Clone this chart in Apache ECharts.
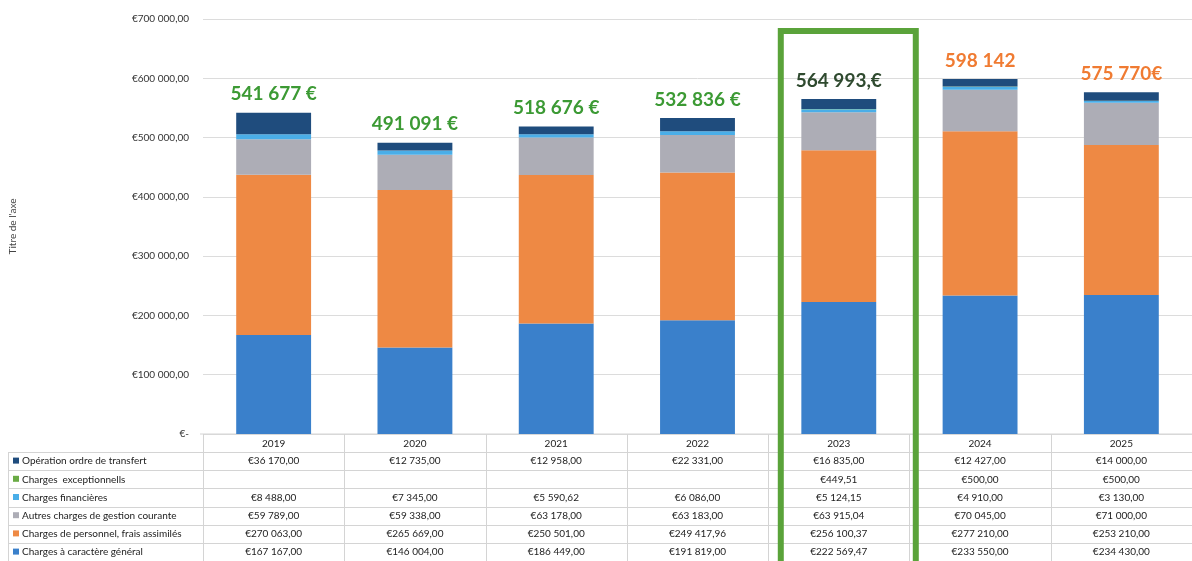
<!DOCTYPE html>
<html>
<head>
<meta charset="utf-8">
<script src="https://cdn.jsdelivr.net/npm/echarts@6/dist/echarts.min.js"></script>
<style>
  html, body { margin: 0; padding: 0; background: #fff; }
  #chart { width: 1192px; height: 561px; }
</style>
</head>
<body>
<div id="chart"></div>
<script>
var annees = ['2019', '2020', '2021', '2022', '2023', '2024', '2025'];

var chargesGeneral    = [167167, 146004, 186449, 191819, 222569.47, 233550, 234430];
var chargesPersonnel  = [270063, 265669, 250501, 249417.96, 256100.37, 277210, 253210];
var autresCharges     = [59789, 59338, 63178, 63183, 63915.04, 70045, 71000];
var chargesFinancieres = [8488, 7345, 5590.62, 6086, 5124.15, 4910, 3130];
var chargesExcept     = [null, null, null, null, 449.51, 500, 500];
var operationTransfert = [36170, 12735, 12958, 22331, 16835, 12427, 14000];

// totaux écrits au-dessus des barres
var totaux = ['541 677 €', '491 091 €', '518 676 €', '532 836 €', '564 993,€', '598 142', '575 770€'];
var couleursTotaux = ['#3c9a34', '#3c9a34', '#3c9a34', '#3c9a34', '#2f4a2f', '#f07b32', '#f07b32'];

var yTicks = [0, 100000, 200000, 300000, 400000, 500000, 600000, 700000];

// séries dans l'ordre du tableau (haut -> bas)
var lignes = [
  { nom: 'Opération ordre de transfert', data: operationTransfert, couleur: '#1f4c7d' },
  { nom: 'Charges  exceptionnells', data: chargesExcept, couleur: '#6aab45' },
  { nom: 'Charges financières', data: chargesFinancieres, couleur: '#4aaee8' },
  { nom: 'Autres charges de gestion courante', data: autresCharges, couleur: '#adadb6' },
  { nom: 'Charges de personnel, frais assimilés', data: chargesPersonnel, couleur: '#ee8944' },
  { nom: 'Charges à caractère général', data: chargesGeneral, couleur: '#3a80cb' }
];

function euro(v) {
  if (v === null || v === undefined) return '';
  var s = v.toFixed(2).split('.');
  var ent = s[0].replace(/\B(?=(\d{3})+(?!\d))/g, ' ');
  return '€' + ent + ',' + s[1];
}

function axeEuro(v) {
  if (v === 0) return '€-';
  return euro(v);
}

var chart = echarts.init(document.getElementById('chart'));

var series = [];
for (var i = lignes.length - 1; i >= 0; i--) {
  var l = lignes[i];
  var s = {
    name: l.nom,
    type: 'bar',
    stack: 'total',
    barWidth: '53%',
    itemStyle: { color: l.couleur },
    data: l.data
  };
  if (i === 0) {
    s.data = l.data.map(function (v, k) {
      return {
        value: v,
        label: {
          show: true,
          position: 'top',
          distance: 9,
          formatter: totaux[k],
          color: couleursTotaux[k],
          fontFamily: 'Lato',
          fontWeight: 'bold',
          fontSize: 19
        }
      };
    });
  }
  series.push(s);
}

var option = {
  animation: false,
  textStyle: { fontFamily: 'Lato' },
  grid: { left: 200, right: 0, top: 19, bottom: 127 },
  xAxis: {
    type: 'category',
    data: annees,
    axisLine: { show: false },
    axisTick: { show: false },
    axisLabel: { margin: 5, fontSize: 10, color: '#222', fontFamily: 'Lato' }
  },
  yAxis: {
    type: 'value',
    min: 0,
    max: 700000,
    interval: 100000,
    name: "Titre de l'axe",
    nameLocation: 'middle',
    nameGap: 185,
    nameRotate: 90,
    nameTextStyle: { fontSize: 10, color: '#444', fontFamily: 'Lato' },
    axisLabel: { formatter: axeEuro, fontSize: 10, color: '#333', margin: 14, fontFamily: 'Lato' },
    splitLine: { lineStyle: { color: '#dcdcdc', width: 1 } }
  },
  series: series
};

chart.setOption(option);

// tableau de données sous le graphique
var elems = [];
var yHaut = 434, yEntete = 452, hLigne = 18.2;
var largeurCat = chart.convertToPixel({ xAxisIndex: 0 }, 1) - chart.convertToPixel({ xAxisIndex: 0 }, 0);
var trait = { stroke: '#d4d4d4', lineWidth: 1 };

// lignes horizontales
elems.push({ type: 'line', shape: { x1: 200, y1: yHaut, x2: 1192, y2: yHaut }, style: trait });
for (var r = 0; r <= lignes.length; r++) {
  var yy = Math.round(yEntete + r * hLigne) + 0.5;
  elems.push({ type: 'line', shape: { x1: 8, y1: yy, x2: 1192, y2: yy }, style: trait });
}
// lignes verticales
elems.push({ type: 'line', shape: { x1: 8.5, y1: yEntete, x2: 8.5, y2: 561 }, style: trait });
for (var c = 0; c <= annees.length; c++) {
  var xx = Math.round(chart.convertToPixel({ xAxisIndex: 0 }, 0) - largeurCat / 2 + c * largeurCat) + 0.5;
  elems.push({ type: 'line', shape: { x1: xx, y1: yHaut, x2: xx, y2: 561 }, style: trait });
}

lignes.forEach(function (l, r) {
  var yc = yEntete + r * hLigne + hLigne / 2;
  elems.push({ type: 'rect', shape: { x: 13, y: yc - 3.5, width: 6, height: 6 }, style: { fill: l.couleur } });
  elems.push({
    type: 'text', x: 22, y: yc,
    style: { text: l.nom, fontSize: 10, fill: '#222', fontFamily: 'Lato', verticalAlign: 'middle' }
  });
  l.data.forEach(function (v, k) {
    if (v === null) return;
    elems.push({
      type: 'text', x: chart.convertToPixel({ xAxisIndex: 0 }, k), y: yc,
      style: { text: euro(v), fontSize: 10, fill: '#222', fontFamily: 'Lato', align: 'center', verticalAlign: 'middle' }
    });
  });
});

// cadre vert autour de 2023
var x2023 = chart.convertToPixel({ xAxisIndex: 0 }, 4);
elems.push({
  type: 'rect',
  shape: { x: x2023 - 58, y: 31, width: 135, height: 540 },
  style: { fill: 'none', stroke: '#5aa33a', lineWidth: 6 },
  z: 100
});

chart.setOption({ graphic: elems });
</script>
</body>
</html>
